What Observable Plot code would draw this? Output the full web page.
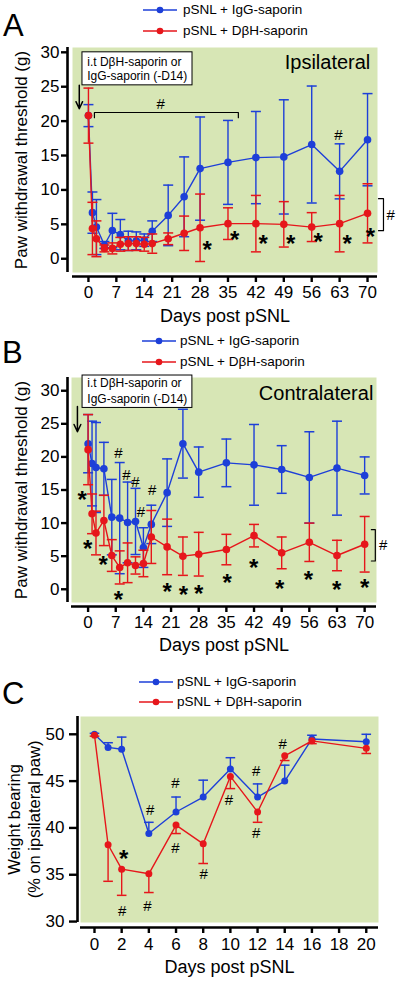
<!DOCTYPE html>
<html><head><meta charset="utf-8">
<script src="https://cdn.jsdelivr.net/npm/d3@7"></script>
<script src="https://cdn.jsdelivr.net/npm/@observablehq/plot@0.6"></script>
<style>
body{margin:0;background:#fff;font-family:"Liberation Sans",Arial,Helvetica,sans-serif;color:#000;}
#wrap{position:relative;width:400px;height:988px;overflow:hidden;background:#fff;}
.abs{position:absolute;}
.letter{position:absolute;line-height:1;font-size:31px;}
.row{position:absolute;height:16px;line-height:16px;font-size:13.5px;white-space:nowrap;}
.row svg{position:absolute;top:3px;}
.row span{position:absolute;top:0;}
</style></head><body><div id="wrap"></div>
<script>
// ---------------- data ----------------
const seriesNames = ["pSNL + IgG-saporin", "pSNL + D\u03B2H-saporin"];
const daysAB = [0,1,2,4,6,8,10,12,14,16,20,24,28,35,42,49,56,63,70];
const ticksAB = [0,7,14,21,28,35,42,49,56,63,70];
const ticksYAB = [0,5,10,15,20,25,30];

// Panel A: ipsilateral (mean, SEM)
const ipsiIgG    = [20.8,6.7,4.6,2.0,4.1,3.5,2.6,2.6,2.7,4.0,6.3,9.0,13.1,14.0,14.7,14.8,16.6,12.7,17.3];
const ipsiIgGSem = [1.6,3.0,4.0,0.5,2.5,2.2,1.4,1.3,0.9,1.5,4.4,5.8,7.5,6.1,6.7,8.3,8.5,4.0,6.7];
const ipsiDbh    = [20.8,4.4,2.9,1.5,1.5,2.1,2.2,2.2,2.1,2.2,2.9,3.7,4.5,5.1,5.1,5.0,4.6,5.1,6.6];
const ipsiDbhSem = [4.0,3.8,2.6,0.5,0.8,1.0,1.0,1.0,1.0,1.4,0.85,2.5,4.9,2.3,4.1,3.3,2.1,4.1,4.3];

// Panel B: contralateral (mean, SEM)
const contraIgG    = [22.0,19.0,18.4,18.2,10.9,10.75,10.1,10.25,6.3,9.8,14.6,22.0,17.7,19.1,18.8,18.1,16.9,18.3,17.2];
const contraIgGSem = [4.4,6.4,6.8,4.0,5.7,8.4,6.1,5.0,3.0,2.9,5.1,5.2,3.8,3.6,6.1,3.6,6.9,7.1,2.8];
const contraDbh    = [21.1,11.4,8.5,10.4,5.1,3.3,4.0,3.6,3.9,7.9,6.4,5.0,5.3,6.0,8.1,5.5,7.1,5.1,6.8];
const contraDbhSem = [5.3,3.0,3.3,3.8,2.4,2.5,3.0,1.3,2.0,4.0,4.2,2.9,3.3,2.3,1.7,2.4,2.9,2.3,4.2];

// Panel C: weight bearing (mean, SEM)
const daysC = [0,1,2,4,6,8,10,12,14,16,20];
const ticksC = [0,2,4,6,8,10,12,14,16,18,20];
const ticksYC = [30,35,40,45,50];
const wbIgG    = [50.0,48.6,48.4,39.4,41.7,43.3,46.3,43.3,45.0,49.5,49.2];
const wbIgGSem = [0.1,0.5,1.3,1.2,1.6,1.8,1.2,1.4,1.7,0.4,0.8];
const wbDbh    = [49.9,38.2,35.6,35.1,40.3,38.3,45.5,41.7,47.7,49.3,48.5];
const wbDbhSem = [0.1,3.9,2.8,2.0,0.9,2.1,1.3,1.1,0.5,0.3,0.55];

// significance markers [day, value]
const starsA = [[29.8,2.1],[36.7,3.6],[43.8,2.9],[50.7,3.0],[57.6,3.2],[64.9,3.0],[70.7,4.0]];
const hashA  = [[18.1,22.4],[62.7,17.9],[75.8,6.3]];
const starsB = [[-1.5,14.3],[-0.1,6.9],[3.8,4.5],[7.7,-0.8],[20.0,0.45],[24.1,-0.05],[28.0,0.2],[35.2,1.8],[41.9,4.0],[48.5,0.9],[55.8,2.3],[62.9,0.75],[70.0,1.1]];
const hashB  = [[7.7,20.6],[9.7,17.2],[12.0,16.2],[16.2,15.0],[13.4,11.6],[74.7,6.6]];
const starsC = [[2.15,37.3]];
const hashC  = [[4.1,41.9],[5.96,44.8],[5.96,37.8],[8.04,35.1],[9.9,43.0],[11.9,46.1],[11.9,39.4],[13.85,48.9],[2.04,31.1],[3.9,31.6]];

// annotation texts and anchors
const boxLines = ["i.t D\u03B2H-saporin or", "IgG-saporin (-D14)"];
const boxA = {x1:-1.5, x2:26.1, y1:25.2, y2:30.0, tx:-0.3, ty:[28.5,26.5], ax:-2.3, ay1:25.2, ay2:21.8};
const boxB = {x1:-1.4, x2:26.4, y1:27.4, y2:32.3, tx:-0.2, ty:[31.1,28.8], ax:-2.7, ay1:27.6, ay2:23.8};
const sideTitleA = {text:"Ipsilateral", x:70.7, y:28.5};
const sideTitleB = {text:"Contralateral", x:72.2, y:29.5};
const topBracketA = [[1.5,20.5],[1.5,21.25],[37.6,21.25],[37.6,20.5]];
const sideBracketA = [[72.75,8.73],[74.0,8.73],[74.0,4.08],[72.75,4.08]];
const sideBracketB = [[71.7,9.0],[72.7,9.0],[72.7,4.27],[71.7,4.27]];

// ---------------- drawing ----------------
const BLUE = "#1d3fd8", RED = "#e6161b", GREEN = "#d7e6b5";
const FONT = "'Liberation Sans', Arial, Helvetica, sans-serif";
const hline = {draw(ctx, size){const w = Math.sqrt(size/Math.PI); ctx.moveTo(-w,0); ctx.lineTo(w,0);}};

function rowsOf(days, vals, sems, mode){
  return days.map((d,i)=>({day:d, v:vals[i],
    lo: mode==="up" ? vals[i] : vals[i]-sems[i],
    hi: mode==="down" ? vals[i] : vals[i]+sems[i]}));
}
function capsOf(rows, mode){
  const out=[];
  for(const r of rows){
    if(mode!=="down") out.push({day:r.day, y:r.hi});
    if(mode!=="up") out.push({day:r.day, y:r.lo});
  }
  return out;
}
function seriesMarks(rows, mode, color, r, capR){
  return [
    Plot.ruleX(rows, {x:"day", y1:"lo", y2:"hi", stroke:color, strokeWidth:1.4}),
    Plot.dot(capsOf(rows,mode), {x:"day", y:"y", symbol:hline, r:capR, stroke:color, strokeWidth:1.5, fill:"none"}),
    Plot.line(rows, {x:"day", y:"v", stroke:color, strokeWidth:1.4}),
    Plot.dot(rows, {x:"day", y:"v", r, fill:color, stroke:"none"})
  ];
}
const stars = pts => Plot.text(pts, {x:d=>d[0], y:d=>d[1], text:()=>"*", fontSize:24, fontWeight:"bold", dy:6, fill:"black"});
const hashes = pts => Plot.text(pts, {x:d=>d[0], y:d=>d[1], text:()=>"#", fontSize:15, fill:"black"});
const bracket = pts => Plot.line(pts, {x:d=>d[0], y:d=>d[1], stroke:"black", strokeWidth:1.2});

function boxMarks(b){
  return [
    Plot.rect([b], {x1:"x1", x2:"x2", y1:"y1", y2:"y2", fill:"white", stroke:"black", strokeWidth:1}),
    Plot.text(boxLines, {x:()=>b.tx, y:(d,i)=>b.ty[i], text:d=>d, textAnchor:"start", fontSize:12, fill:"black"}),
    Plot.arrow([b], {x1:"ax", x2:"ax", y1:"ay1", y2:"ay2", stroke:"black", strokeWidth:1.5, headLength:8, headAngle:50})
  ];
}

function axisMarks(o){
  return [
    Plot.frame({fill:GREEN, stroke:"none"}),
    Plot.ruleX([o.xDomain[0]], {y1:o.yDomain[0], y2:o.yDomain[1], dx:-o.yOff, stroke:"black", strokeWidth:2.6}),
    Plot.ruleY([o.yDomain[0]], {x1:o.xDomain[0], x2:o.xDomain[1], dy:o.xOff, stroke:"black", strokeWidth:2.6}),
    Plot.axisY({ticks:o.yTicks, tickSize:o.yTickSize, tickPadding:o.yPad, dx:-o.yOff, strokeWidth:2.4, fontSize:17, label:null}),
    Plot.axisX({ticks:o.xTicks, tickSize:6, tickPadding:o.xPad, dy:o.xOff, strokeWidth:2.4, fontSize:17, label:null}),
    Plot.text(["Days post pSNL"], {frameAnchor:"bottom", text:d=>d, dy:o.xLabelDy, lineAnchor:"middle", textAnchor:"middle", fontSize:18, fill:"black"}),
    Plot.text([o.yLabel], {frameAnchor:"left", text:d=>d, rotate:-90, dx:o.yLabelDx, textAnchor:"middle", lineAnchor:"middle", fontSize:o.yLabelSize, lineHeight:1.2, fill:"black"})
  ];
}

function makePlot(o, marks){
  return Plot.plot({
    width:400, height:o.height,
    marginTop:o.mt, marginBottom:o.mb, marginLeft:o.ml, marginRight:o.mr,
    x:{domain:o.xDomain}, y:{domain:o.yDomain},
    style:{fontFamily:FONT, color:"black", background:"transparent", overflow:"visible"},
    marks:[...axisMarks(o), ...marks]
  });
}

const wrap = document.getElementById("wrap");
function place(el, top){ const d=document.createElement("div"); d.className="abs"; d.style.left="0px"; d.style.top=top+"px"; d.appendChild(el); wrap.appendChild(d); }
function letter(t, left, top){ const d=document.createElement("div"); d.className="letter"; d.textContent=t; d.style.left=left+"px"; d.style.top=top+"px"; wrap.appendChild(d); }
function legend(cys, lineX, textX){
  [BLUE, RED].forEach((c,i)=>{
    const row=document.createElement("div"); row.className="row";
    row.style.left="0px"; row.style.width="400px"; row.style.top=(cys[i]-8)+"px";
    row.innerHTML = `<svg width="36" height="10" style="left:${lineX}px"><line x1="0" x2="34" y1="5" y2="5" stroke="${c}" stroke-width="1.5"/><circle cx="17" cy="5" r="3.3" fill="${c}"/></svg><span style="left:${textX}px">${seriesNames[i]}</span>`;
    wrap.appendChild(row);
  });
}

// Panel A
const optA = {height:290, mt:7, mb:58, ml:72, mr:23, xDomain:[-4,72.5], yDomain:[-2,30.7],
  xTicks:ticksAB, yTicks:ticksYAB, yOff:5, xOff:4, yTickSize:6, yPad:2, xPad:3, xLabelDy:43.5,
  yLabel:"Paw withdrawal threshold (g)", yLabelDx:-52, yLabelSize:17};
const rA1 = rowsOf(daysAB, ipsiIgG, ipsiIgGSem, "both"), rA2 = rowsOf(daysAB, ipsiDbh, ipsiDbhSem, "both");
place(makePlot(optA, [
  ...boxMarks(boxA),
  Plot.text([sideTitleA], {x:"x", y:"y", text:"text", textAnchor:"end", fontSize:20, fill:"black"}),
  bracket(topBracketA), bracket(sideBracketA),
  ...seriesMarks(rA1,"both",BLUE,3.8,5), ...seriesMarks(rA2,"both",RED,3.8,5),
  stars(starsA), hashes(hashA)
]), 40);
legend([10,31], 143, 183);
letter("A", 3, 10);

// Panel B
const optB = {height:290, mt:7, mb:58, ml:71, mr:24, xDomain:[-4.2,73], yDomain:[-2,32],
  xTicks:ticksAB, yTicks:ticksYAB, yOff:4, xOff:4, yTickSize:6, yPad:2, xPad:3, xLabelDy:42.5,
  yLabel:"Paw withdrawal threshold (g)", yLabelDx:-51, yLabelSize:17};
const rB1 = rowsOf(daysAB, contraIgG, contraIgGSem, "both"), rB2 = rowsOf(daysAB, contraDbh, contraDbhSem, "both");
place(makePlot(optB, [
  ...boxMarks(boxB),
  Plot.text([sideTitleB], {x:"x", y:"y", text:"text", textAnchor:"end", fontSize:20, fill:"black"}),
  bracket(sideBracketB),
  ...seriesMarks(rB1,"both",BLUE,3.8,5), ...seriesMarks(rB2,"both",RED,3.8,5),
  stars(starsB), hashes(hashB)
]), 370);
legend([341,362], 142, 180);
letter("B", 2, 337);

// Panel C
const optC = {height:279, mt:7, mb:66, ml:80, mr:22, xDomain:[-1.03,20.9], yDomain:[29.9,51.9],
  xTicks:ticksC, yTicks:ticksYC, yOff:3, xOff:5, yTickSize:8, yPad:5, xPad:4, xLabelDy:44.5,
  yLabel:"Weight bearing\n(% on ipsilateral paw)", yLabelDx:-57, yLabelSize:16.5};
const rC1 = rowsOf(daysC, wbIgG, wbIgGSem, "up"), rC2 = rowsOf(daysC, wbDbh, wbDbhSem, "down");
place(makePlot(optC, [
  ...seriesMarks(rC1,"up",BLUE,3.5,4.8), ...seriesMarks(rC2,"down",RED,3.5,4.8),
  stars(starsC), hashes(hashC)
]), 709);
legend([682,702], 139, 177);
letter("C", 2, 678);
</script></body></html>
